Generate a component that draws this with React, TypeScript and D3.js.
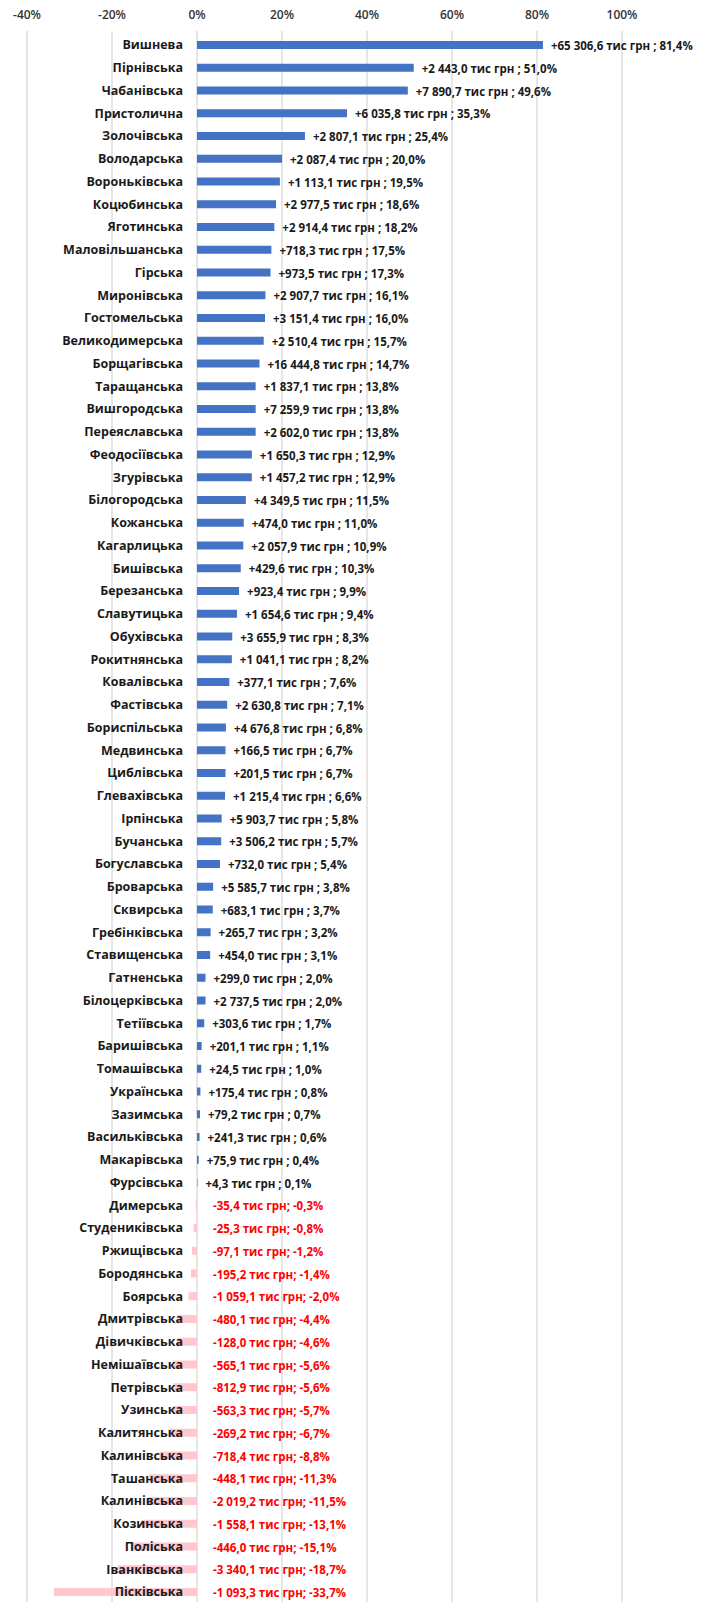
import * as d3 from "d3";
import React, { useEffect } from "react";

const communities = [
  "Вишнева", "Пірнівська", "Чабанівська", "Пристолична", "Золочівська",
  "Володарська", "Вороньківська", "Коцюбинська", "Яготинська", "Маловільшанська",
  "Гірська", "Миронівська", "Гостомельська", "Великодимерська", "Борщагівська",
  "Таращанська", "Вишгородська", "Переяславська", "Феодосіївська", "Згурівська",
  "Білогородська", "Кожанська", "Кагарлицька", "Бишівська", "Березанська",
  "Славутицька", "Обухівська", "Рокитнянська", "Ковалівська", "Фастівська",
  "Бориспільська", "Медвинська", "Циблівська", "Глевахівська", "Ірпінська",
  "Бучанська", "Богуславська", "Броварська", "Сквирська", "Гребінківська",
  "Ставищенська", "Гатненська", "Білоцерківська", "Тетіївська", "Баришівська",
  "Томашівська", "Українська", "Зазимська", "Васильківська", "Макарівська",
  "Фурсівська", "Димерська", "Студениківська", "Ржищівська", "Бородянська",
  "Боярська", "Дмитрівська", "Дівичківська", "Немішаївська", "Петрівська",
  "Узинська", "Калитянська", "Калинівська", "Ташанська", "Калинівська",
  "Козинська", "Поліська", "Іванківська", "Пісківська",
];

// change, %
const changePct = [
  81.4, 51.0, 49.6, 35.3, 25.4, 20.0, 19.5, 18.6, 18.2, 17.5,
  17.3, 16.1, 16.0, 15.7, 14.7, 13.8, 13.8, 13.8, 12.9, 12.9,
  11.5, 11.0, 10.9, 10.3, 9.9, 9.4, 8.3, 8.2, 7.6, 7.1,
  6.8, 6.7, 6.7, 6.6, 5.8, 5.7, 5.4, 3.8, 3.7, 3.2,
  3.1, 2.0, 2.0, 1.7, 1.1, 1.0, 0.8, 0.7, 0.6, 0.4,
  0.1, -0.3, -0.8, -1.2, -1.4, -2.0, -4.4, -4.6, -5.6, -5.6,
  -5.7, -6.7, -8.8, -11.3, -11.5, -13.1, -15.1, -18.7, -33.7,
];

// change, тис грн
const changeAmount = [
  65306.6, 2443.0, 7890.7, 6035.8, 2807.1, 2087.4, 1113.1, 2977.5, 2914.4, 718.3,
  973.5, 2907.7, 3151.4, 2510.4, 16444.8, 1837.1, 7259.9, 2602.0, 1650.3, 1457.2,
  4349.5, 474.0, 2057.9, 429.6, 923.4, 1654.6, 3655.9, 1041.1, 377.1, 2630.8,
  4676.8, 166.5, 201.5, 1215.4, 5903.7, 3506.2, 732.0, 5585.7, 683.1, 265.7,
  454.0, 299.0, 2737.5, 303.6, 201.1, 24.5, 175.4, 79.2, 241.3, 75.9,
  4.3, -35.4, -25.3, -97.1, -195.2, -1059.1, -480.1, -128.0, -565.1, -812.9,
  -563.3, -269.2, -718.4, -448.1, -2019.2, -1558.1, -446.0, -3340.1, -1093.3,
];

const xTicks = [-40, -20, 0, 20, 40, 60, 80, 100];

const WIDTH = 707;
const HEIGHT = 1602;
const FONT = "'Open Sans', 'Noto Sans', sans-serif";

const fmtNum = (v: number) =>
  d3.format(",.1f")(Math.abs(v)).replace(/,/g, " ").replace(".", ",");

const labelText = (amt: number, pct: number) =>
  amt >= 0
    ? `+${fmtNum(amt)} тис грн ; ${fmtNum(pct)}%`
    : `-${fmtNum(amt)} тис грн; -${fmtNum(pct)}%`;

export default function App() {
  useEffect(() => {
    document.body.style.margin = "0";
    document.body.style.background = "#fff";
  }, []);

  const x = d3.scaleLinear().domain([-40, 100]).range([27, 622]);
  const y = d3
    .scalePoint<number>()
    .domain(communities.map((_, i) => i))
    .range([45, 1592]);
  const barH = 8;

  return (
    <svg width={WIDTH} height={HEIGHT} style={{ display: "block" }}>
      <rect width={WIDTH} height={HEIGHT} fill="#fff" />
      {/* grid + tick labels */}
      {xTicks.map((t) => (
        <g key={t}>
          <line
            x1={x(t)}
            x2={x(t)}
            y1={31}
            y2={HEIGHT}
            stroke="#d9d9d9"
            strokeWidth={1.3}
          />
          <text
            x={x(t)}
            y={19}
            textAnchor="middle"
            fontFamily={FONT}
            fontSize={12}
            fontWeight={600}
            fill="#333"
          >
            {t}%
          </text>
        </g>
      ))}

      {/* bars */}
      {changePct.map((v, i) => (
        <rect
          key={i}
          x={x(Math.min(0, v))}
          y={y(i)! - barH / 2}
          width={Math.abs(x(v) - x(0))}
          height={barH}
          fill={v >= 0 ? "#4472c4" : "#ffc7ce"}
        />
      ))}

      {/* category labels */}
      {communities.map((c, i) => (
        <text
          key={i}
          x={183}
          y={y(i)!}
          dy="0.35em"
          textAnchor="end"
          fontFamily={FONT}
          fontSize={12.5}
          fontWeight={700}
          fill="#1a1a1a"
        >
          {c}
        </text>
      ))}

      {/* value labels */}
      {changePct.map((v, i) => (
        <text
          key={i}
          x={v >= 0 ? x(v) + 8 : x(0) + 16}
          y={y(i)! + 1}
          dy="0.35em"
          fontFamily={FONT}
          fontSize={11.5}
          fontWeight={700}
          fill={v >= 0 ? "#1a1a1a" : "#ff0000"}
        >
          {labelText(changeAmount[i], v)}
        </text>
      ))}
    </svg>
  );
}
